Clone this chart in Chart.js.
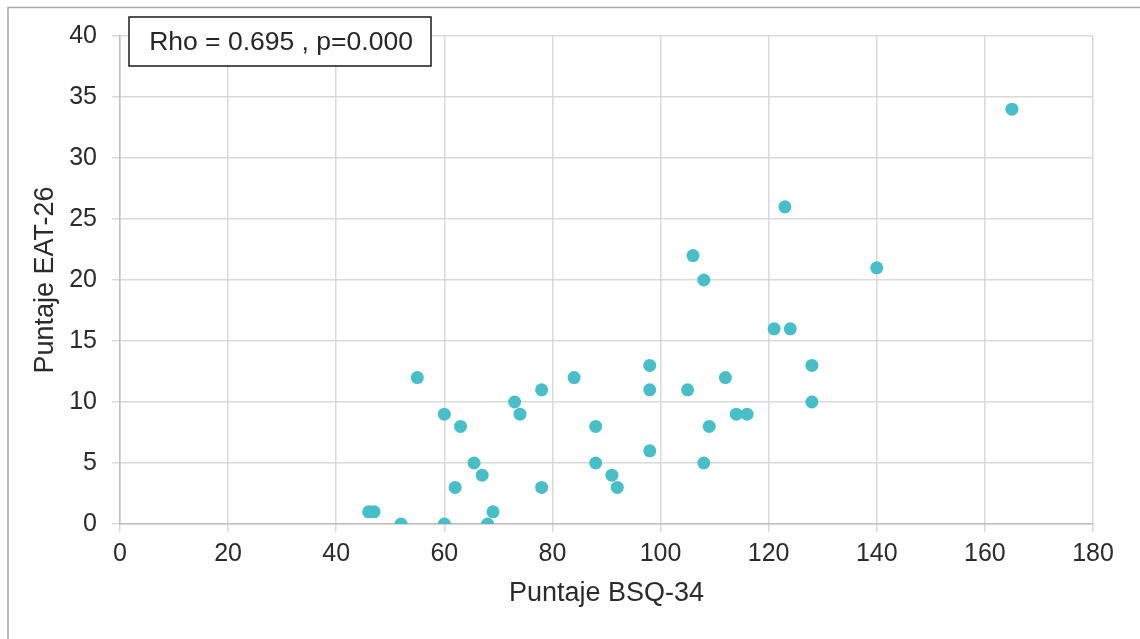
<!DOCTYPE html>
<html>
<head>
<meta charset="utf-8">
<script src="https://cdn.jsdelivr.net/npm/chart.js@4.4.1/dist/chart.umd.min.js"></script>
<style>
  html, body { margin: 0; padding: 0; background: #ffffff; }
  #wrap { width: 1140px; height: 639px; position: relative; }
</style>
</head>
<body>
<div id="wrap"><canvas id="c" width="1140" height="639"></canvas></div>
<script>
// ---- data ----
const xValues = [46, 47, 52, 60, 68, 69, 55, 60, 63, 65.5, 67, 62, 73, 74, 78, 78, 84, 88, 88, 91, 92,
                 98, 98, 98, 105, 108, 109, 112, 114, 116, 106, 108, 121, 124, 123, 128, 128, 140, 165];
const yValues = [1, 1, 0, 0, 0, 1, 12, 9, 8, 5, 4, 3, 10, 9, 11, 3, 12, 8, 5, 4, 3,
                 13, 11, 6, 11, 5, 8, 12, 9, 9, 22, 20, 16, 16, 26, 13, 10, 21, 34];
const xTicks = [0, 20, 40, 60, 80, 100, 120, 140, 160, 180];
const yTicks = [0, 5, 10, 15, 20, 25, 30, 35, 40];
const xTitle = 'Puntaje BSQ-34';
const yTitle = 'Puntaje EAT-26';
const annotationText = 'Rho = 0.695 , p=0.000';

const FONT = "'Liberation Sans', Arial, sans-serif";
const points = xValues.map((x, i) => ({ x: x, y: yValues[i] }));

const decorPlugin = {
  id: 'decor',
  beforeDraw(chart) {
    const ctx = chart.ctx;
    ctx.save();
    ctx.strokeStyle = '#a8a8a8';
    ctx.lineWidth = 1.5;
    ctx.beginPath();
    ctx.moveTo(8, 639);
    ctx.lineTo(8, 7.5);
    ctx.lineTo(1140, 7.5);
    ctx.stroke();
    ctx.restore();
  },
  afterDraw(chart) {
    const ctx = chart.ctx;
    const ca = chart.chartArea;
    ctx.save();
    const bx = ca.left + 9, by = 17, bw = 302, bh = 49;
    ctx.fillStyle = '#ffffff';
    ctx.fillRect(bx, by, bw, bh);
    ctx.strokeStyle = '#1a1a1a';
    ctx.lineWidth = 1.5;
    ctx.strokeRect(bx, by, bw, bh);
    ctx.fillStyle = '#262626';
    ctx.font = '26.5px ' + FONT;
    ctx.textAlign = 'center';
    ctx.textBaseline = 'middle';
    ctx.fillText(annotationText, bx + bw / 2 + 1, by + bh / 2 + 1);
    ctx.restore();
  }
};

new Chart(document.getElementById('c'), {
  type: 'scatter',
  data: {
    datasets: [{
      data: points,
      backgroundColor: 'rgb(72,191,200)',
      borderColor: 'rgb(72,191,200)',
      borderWidth: 0,
      pointRadius: 6.5,
      pointHoverRadius: 6.5
    }]
  },
  options: {
    responsive: false,
    animation: false,
    devicePixelRatio: 1,
    layout: { padding: { left: 0, right: 47, top: 36, bottom: 0 } },
    plugins: { legend: { display: false }, tooltip: { enabled: false } },
    scales: {
      x: {
        type: 'linear',
        min: 0, max: 180,
        afterBuildTicks: (s) => { s.ticks = xTicks.map(v => ({ value: v })); },
        afterFit: (s) => { s.height = 115; },
        grid: { color: '#d9d9d9', lineWidth: 1.5, tickLength: 8, drawTicks: true },
        border: { color: '#bfbfbf', width: 1.5 },
        ticks: { color: '#2b2b2b', padding: 7, font: { family: FONT, size: 25 }, maxRotation: 0 },
        title: { display: true, text: xTitle, color: '#2b2b2b',
                 font: { family: FONT, size: 27, lineHeight: 1 }, padding: { top: 0, bottom: 32 } }
      },
      y: {
        type: 'linear',
        min: 0, max: 40,
        afterBuildTicks: (s) => { s.ticks = yTicks.map(v => ({ value: v })); },
        afterFit: (s) => { s.width = 120; },
        grid: { color: '#d9d9d9', lineWidth: 1.5, tickLength: 8, drawTicks: true },
        border: { color: '#bfbfbf', width: 1.5 },
        ticks: { color: '#2b2b2b', padding: 15, font: { family: FONT, size: 25 } },
        title: { display: true, text: yTitle, color: '#2b2b2b',
                 font: { family: FONT, size: 27, lineHeight: 1 }, padding: { top: 32, bottom: 0 } }
      }
    }
  },
  plugins: [decorPlugin]
});
</script>
</body>
</html>
